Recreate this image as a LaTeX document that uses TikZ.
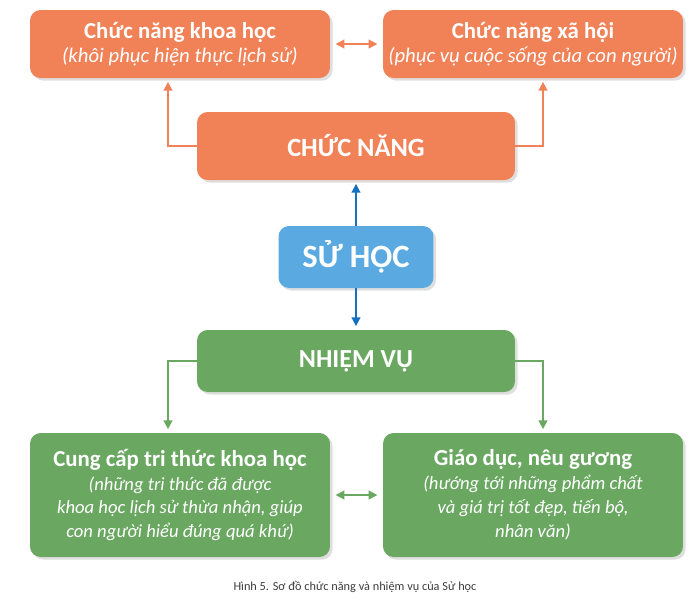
\documentclass[tikz,border=0pt]{standalone}
\usepackage{fontspec}
\setmainfont{Carlito}
\usetikzlibrary{arrows.meta,shadows}
\definecolor{camcam}{RGB}{241,130,88}
\definecolor{xanhduong}{RGB}{90,170,225}
\definecolor{xanhdam}{RGB}{22,112,192}
\definecolor{xanhla}{RGB}{106,168,98}
\definecolor{chuthich}{RGB}{60,60,60}
\newcommand{\tieude}[1]{{\fontsize{13}{13.6}\selectfont\bfseries #1}}
\newcommand{\giaithich}[1]{{\fontsize{11.8}{13.6}\selectfont\itshape #1}}
\newcommand{\giaithichnho}[1]{{\fontsize{10.6}{13.6}\selectfont\itshape #1}}

\begin{document}
\begin{tikzpicture}[x=0.02cm,y=-0.02cm,
	hop/.style={rounded corners=6pt, text=white, align=center, inner sep=0pt,
		font=\fontsize{11}{13.6}\selectfont,
		drop shadow={opacity=0.25,shadow xshift=1.5pt,shadow yshift=-1.5pt}},
	hopcam/.style={hop, fill=camcam},
	hopla/.style={hop, fill=xanhla},
	muiten/.style={-{Triangle[length=5pt,width=5pt]}, line width=0.9pt},
	haichieu/.style={{Triangle[length=5pt,width=5pt]}-{Triangle[length=5pt,width=5pt]}, line width=0.9pt}]
	\useasboundingbox (0,0) rectangle (693,600);
	% chuc nang
	\node[hopcam, minimum width=6cm, minimum height=1.36cm] (khoahoc) at (180,44)
		{\tieude{Chức năng khoa học}\\ \giaithich{(khôi phục hiện thực lịch sử)}};
	\node[hopcam, minimum width=6cm, minimum height=1.36cm] (xahoi) at (533,44)
		{\tieude{Chức năng xã hội}\\ \giaithich{(phục vụ cuộc sống của con người)}};
	\node[hopcam, minimum width=6.36cm, minimum height=1.36cm] (chucnang) at (356,146)
		{\fontsize{15}{18}\selectfont\bfseries CHỨC NĂNG};
	% su hoc
	\node[hop, fill=xanhduong, minimum width=3.1cm, minimum height=1.24cm] (suhoc) at (356,257)
		{\fontsize{18.5}{22}\selectfont\bfseries SỬ HỌC};
	% nhiem vu
	\node[hopla, minimum width=6.36cm, minimum height=1.24cm] (nhiemvu) at (356,361)
		{\fontsize{14.8}{18}\selectfont\bfseries NHIỆM VỤ};
	\node[hopla, minimum width=6cm, minimum height=2.48cm] (cungcap) at (180,495)
		{\tieude{Cung cấp tri thức khoa học}\\ \giaithichnho{(những tri thức đã được}\\
		\giaithichnho{khoa học lịch sử thừa nhận, giúp}\\ \giaithichnho{con người hiểu đúng quá khứ)}};
	\node[hopla, minimum width=6cm, minimum height=2.48cm] (giaoduc) at (533,495)
		{\tieude{Giáo dục, nêu gương}\\ \giaithichnho{(hướng tới những phẩm chất}\\
		\giaithichnho{và giá trị tốt đẹp, tiến bộ,}\\ \giaithichnho{nhân văn)}};
	\node[text=chuthich, font=\fontsize{7}{9}\selectfont] (hinh) at (355,587)
		{Hình 5. Sơ đồ chức năng và nhiệm vụ của Sử học};
	% mui ten
	\draw[haichieu, camcam] ([xshift=3pt]khoahoc.east) -- ([xshift=-3pt]xahoi.west);
	\draw[muiten, camcam] (chucnang.west) -| ([xshift=-0.24cm,yshift=-2pt]khoahoc.south);
	\draw[muiten, camcam] (chucnang.east) -| ([xshift=0.2cm,yshift=-2pt]xahoi.south);
	\draw[muiten, xanhdam] (suhoc.north) -- ([yshift=-2pt]chucnang.south);
	\draw[muiten, xanhdam] (suhoc.south) -- ([yshift=2pt]nhiemvu.north);
	\draw[muiten, xanhla] (nhiemvu.west) -| ([xshift=-0.24cm,yshift=2pt]cungcap.north);
	\draw[muiten, xanhla] (nhiemvu.east) -| ([xshift=0.2cm,yshift=2pt]giaoduc.north);
	\draw[haichieu, xanhla] ([xshift=3pt]cungcap.east) -- ([xshift=-3pt]giaoduc.west);
\end{tikzpicture}
\end{document}
